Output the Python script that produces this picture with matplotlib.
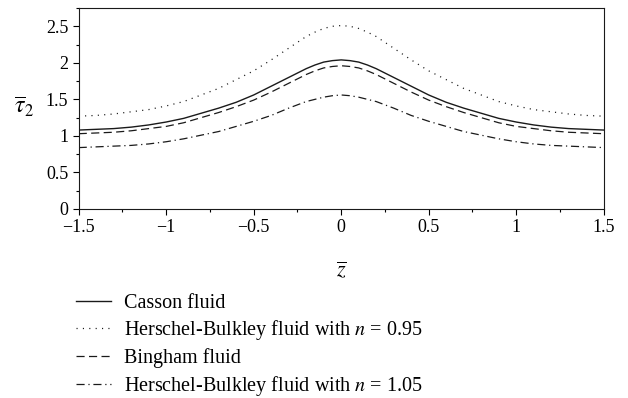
import matplotlib
matplotlib.use('Agg')
import matplotlib.pyplot as plt
from matplotlib.ticker import MultipleLocator

# values
z = [-1.5, -1.4, -1.3, -1.2, -1.1, -1.0, -0.9, -0.8, -0.7, -0.6, -0.5,
     -0.4, -0.3, -0.2, -0.15, -0.1, -0.05, 0.0, 0.05, 0.1, 0.15, 0.2, 0.3, 0.4, 0.5,
     0.6, 0.7, 0.8, 0.9, 1.0, 1.1, 1.2, 1.3, 1.4, 1.5]

casson = [1.08, 1.09, 1.10, 1.12, 1.15, 1.19, 1.24, 1.31, 1.38, 1.46, 1.56,
          1.68, 1.80, 1.92, 1.97, 2.01, 2.03, 2.04, 2.03, 2.01, 1.97, 1.92, 1.80, 1.68, 1.56,
          1.46, 1.38, 1.31, 1.24, 1.19, 1.15, 1.12, 1.10, 1.09, 1.08]

hb_095 = [1.27, 1.28, 1.30, 1.33, 1.36, 1.41, 1.47, 1.56, 1.65, 1.77, 1.89,
          2.04, 2.20, 2.36, 2.42, 2.47, 2.50, 2.51, 2.50, 2.47, 2.42, 2.36, 2.20, 2.04, 1.89,
          1.77, 1.65, 1.56, 1.47, 1.41, 1.36, 1.33, 1.30, 1.28, 1.27]

bingham = [1.03, 1.04, 1.05, 1.07, 1.10, 1.13, 1.18, 1.25, 1.32, 1.40, 1.49,
           1.60, 1.72, 1.84, 1.89, 1.93, 1.95, 1.96, 1.95, 1.93, 1.89, 1.84, 1.72, 1.60, 1.49,
           1.40, 1.32, 1.25, 1.18, 1.13, 1.10, 1.07, 1.05, 1.04, 1.03]

hb_105 = [0.84, 0.85, 0.86, 0.87, 0.89, 0.92, 0.96, 1.01, 1.06, 1.13, 1.20,
          1.28, 1.38, 1.47, 1.50, 1.53, 1.55, 1.56, 1.55, 1.53, 1.50, 1.47, 1.38, 1.28, 1.20,
          1.13, 1.06, 1.01, 0.96, 0.92, 0.89, 0.87, 0.86, 0.85, 0.84]

labels = ['Casson fluid',
          'Herschel-Bulkley fluid with $n$ = 0.95',
          'Bingham fluid',
          'Herschel-Bulkley fluid with $n$ = 1.05']

plt.rcParams['font.family'] = ['Liberation Serif', 'DejaVu Serif']
plt.rcParams['mathtext.fontset'] = 'stix'
plt.rcParams['font.size'] = 13

fig = plt.figure(figsize=(6.28, 3.98), dpi=100)
ax = fig.add_axes([0.1253, 0.4749, 0.836, 0.505])

col = '#1a1a1a'
ax.plot(z, casson, '-', color=col, lw=1.0, label=labels[0])
ax.plot(z, hb_095, color=col, lw=0.9, dashes=(0.9, 4.2), label=labels[1])
ax.plot(z, bingham, color=col, lw=0.9, dashes=(6.5, 3.5), label=labels[2])
ax.plot(z, hb_105, color=col, lw=0.9, dashes=(6.5, 3, 1, 3), label=labels[3])

ax.set_xlim(-1.5, 1.5)
ax.set_ylim(0, 2.75)
ax.xaxis.set_minor_locator(MultipleLocator(0.25))
ax.yaxis.set_minor_locator(MultipleLocator(0.25))
ax.set_xticks([-1.5, -1, -0.5, 0, 0.5, 1, 1.5])
ax.set_xticklabels(['\u22121.5', '\u22121', '\u22120.5', '0', '0.5', '1', '1.5'])
ax.set_yticks([0, 0.5, 1, 1.5, 2, 2.5])
ax.set_yticklabels(['0', '0.5', '1', '1.5', '2', '2.5'])
ax.tick_params(which='major', direction='out', length=4.5, width=0.8, pad=3)
ax.tick_params(which='minor', direction='out', length=2, width=0.8)
for s in ax.spines.values():
    s.set_linewidth(0.8)
    s.set_color(col)

ax.set_xlabel(r'$\overline{z}$', fontsize=16)
ax.xaxis.set_label_coords(0.5, -0.255)
ax.set_ylabel(r'$\overline{\tau}_2$', fontsize=17, rotation=0)
ax.yaxis.set_label_coords(-0.104, 0.45)

fig.legend(loc='upper left', bbox_to_anchor=(0.121, 0.262), frameon=False,
           handlelength=1.75, handletextpad=0.62, labelspacing=0.28,
           borderaxespad=0, borderpad=0, fontsize=14.5)

plt.savefig('out.png', dpi=100)
plt.close()
